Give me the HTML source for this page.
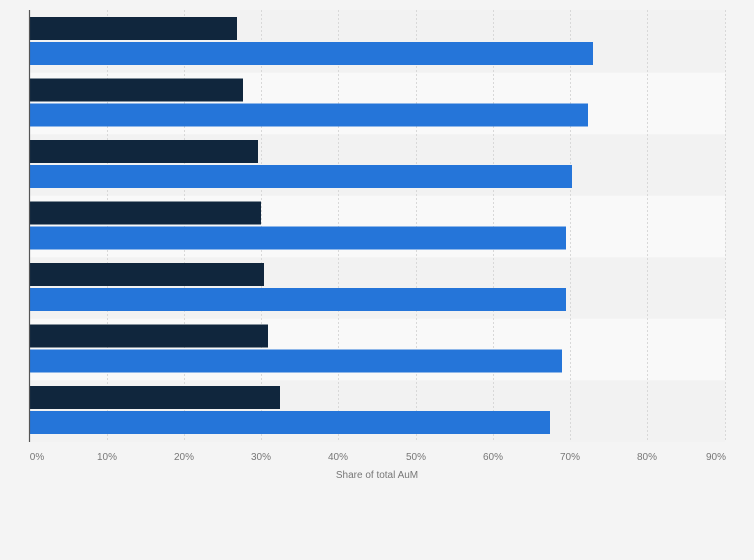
<!DOCTYPE html>
<html><head><style>
html,body{margin:0;padding:0;background:#f4f4f4;}
svg{display:block;font-family:"Liberation Sans",sans-serif;}
</style></head><body>
<svg width="754" height="560" xmlns="http://www.w3.org/2000/svg">
<rect width="754" height="560" fill="#f4f4f4"/>
<rect x="30" y="10" width="695" height="432" fill="#f2f2f2"/>
<rect x="30" y="72.7" width="695" height="61.5" fill="#f9f9f9"/>
<rect x="30" y="195.7" width="695" height="61.5" fill="#f9f9f9"/>
<rect x="30" y="318.7" width="695" height="61.5" fill="#f9f9f9"/>
<g stroke="#d8d8d8" stroke-dasharray="2,2" stroke-width="1">
<line x1="107.5" y1="10" x2="107.5" y2="442"/>
<line x1="184.5" y1="10" x2="184.5" y2="442"/>
<line x1="261.5" y1="10" x2="261.5" y2="442"/>
<line x1="338.5" y1="10" x2="338.5" y2="442"/>
<line x1="416.5" y1="10" x2="416.5" y2="442"/>
<line x1="493.5" y1="10" x2="493.5" y2="442"/>
<line x1="570.5" y1="10" x2="570.5" y2="442"/>
<line x1="647.5" y1="10" x2="647.5" y2="442"/>
<line x1="725.5" y1="10" x2="725.5" y2="442"/>
</g>
<g fill="#10263d">
<rect x="30" y="17" width="207" height="23"/>
<rect x="30" y="78.5" width="213" height="23"/>
<rect x="30" y="140" width="228" height="23"/>
<rect x="30" y="201.5" width="231" height="23"/>
<rect x="30" y="263" width="234" height="23"/>
<rect x="30" y="324.5" width="238" height="23"/>
<rect x="30" y="386" width="250" height="23"/>
</g>
<g fill="#2575d9">
<rect x="30" y="42" width="563" height="23"/>
<rect x="30" y="103.5" width="558" height="23"/>
<rect x="30" y="165" width="542" height="23"/>
<rect x="30" y="226.5" width="536" height="23"/>
<rect x="30" y="288" width="536" height="23"/>
<rect x="30" y="349.5" width="532" height="23"/>
<rect x="30" y="411" width="520" height="23"/>
</g>
<line x1="29.5" y1="10" x2="29.5" y2="442" stroke="#555" stroke-width="1.2"/>
<g font-size="10" fill="#777" text-anchor="middle">
<text x="37" y="460">0%</text>
<text x="107" y="460">10%</text>
<text x="184" y="460">20%</text>
<text x="261" y="460">30%</text>
<text x="338" y="460">40%</text>
<text x="416" y="460">50%</text>
<text x="493" y="460">60%</text>
<text x="570" y="460">70%</text>
<text x="647" y="460">80%</text>
<text x="716" y="460">90%</text>
<text x="377" y="478">Share of total AuM</text>
</g>
</svg>
</body></html>
